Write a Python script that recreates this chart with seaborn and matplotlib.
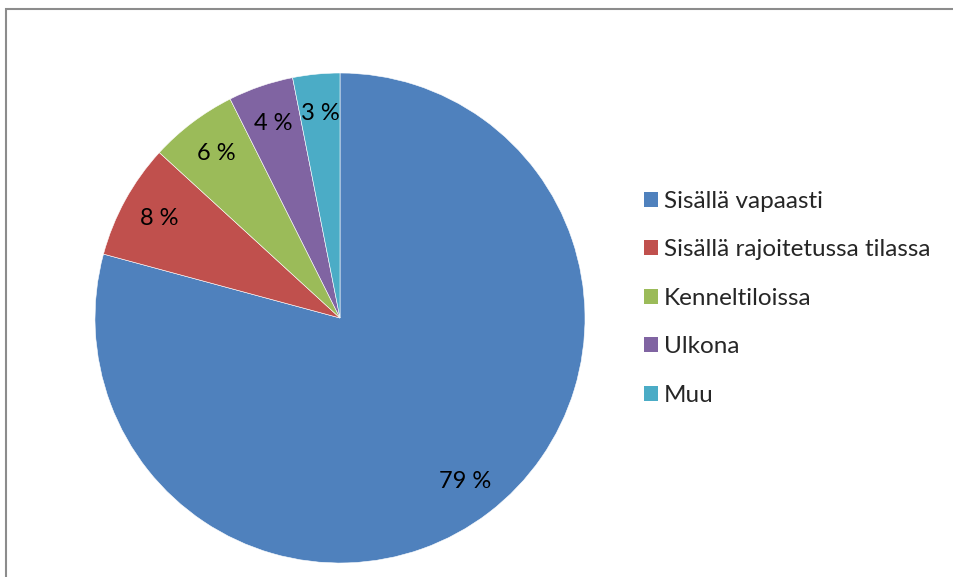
import matplotlib
matplotlib.use("Agg")
import matplotlib.pyplot as plt
import matplotlib.patches as mpatches
import seaborn as sns

categories = ["Sisällä vapaasti", "Sisällä rajoitetussa tilassa", "Kenneltiloissa", "Ulkona", "Muu"]
values = [79.2, 7.6, 5.8, 4.3, 3.1]
colors = ["#4F81BD", "#C0504D", "#9BBB59", "#8064A2", "#4BACC6"]

sns.set_theme(style="white")
plt.rcParams['font.family'] = ['Lato', 'DejaVu Sans']
palette = sns.color_palette(colors)

W, H = 954, 577
fig = plt.figure(figsize=(W / 100, H / 100), dpi=100)
fig.patch.set_facecolor("white")

# outer chart border
border = mpatches.Rectangle((6.5 / W, -0.05), 1.1, (H - 8.5) / H + 0.05, transform=fig.transFigure,
                            fill=False, edgecolor="#8c8c8c", linewidth=1.5, zorder=0)
fig.patches.append(border)

cx, cy, r = 340, 318, 245
ax = fig.add_axes([(cx - r) / W, (H - cy - r) / H, 2 * r / W, 2 * r / H])
wedges, texts, autotexts = ax.pie(values, colors=palette, startangle=90, counterclock=False,
                                  autopct=lambda p: f"{p:.0f} %", pctdistance=0.84,
                                  wedgeprops=dict(edgecolor="white", linewidth=0.4),
                                  textprops=dict(fontsize=17, color="black"))
ax.set_xlim(-1, 1)
ax.set_ylim(-1, 1)
ax.axis("off")

handles = [mpatches.Patch(facecolor=c, edgecolor="none") for c in palette]
fig.legend(handles, categories, loc="upper left", bbox_to_anchor=(644 / W, 1 - 191 / H),
           frameon=False, fontsize=17.5, handlelength=0.58, handleheight=0.58,
           handletextpad=0.25, labelspacing=1.13, borderaxespad=0, borderpad=0)

fig.savefig("out.png", dpi=100, facecolor="white")
